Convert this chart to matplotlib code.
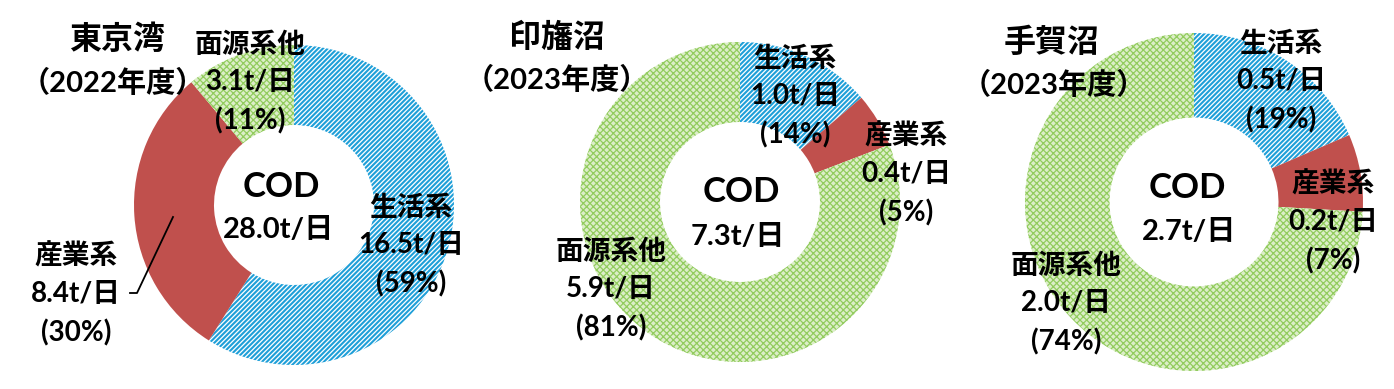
import matplotlib
matplotlib.use("Agg")
import matplotlib.pyplot as plt

# data
regions = ["東京湾", "印旛沼", "手賀沼"]
years = ["（2022年度）", "（2023年度）", "（2023年度）"]
categories = ["生活系", "産業系", "面源系他"]
loads = [[16.5, 8.4, 3.1], [1.0, 0.4, 5.9], [0.5, 0.2, 2.0]]
shares = [[59, 30, 11], [14, 5, 81], [19, 7, 74]]
totals = [28.0, 7.3, 2.7]

# layout in pixels (y measured from the top)
W, H = 1394, 389
centers = [(294, 205), (740, 202), (1194, 202)]
radii = [160, 160, 169]
title_pos = [[(117, 40), (113, 83)], [(557, 38), (557, 80)], [(1052, 43), (1054, 85)]]
center_pos = [[(281, 187), (278, 230)], [(741, 192), (738, 237)], [(1187, 188), (1189, 232)]]
label_pos = [
    [(411, 246), (76, 295), (250, 83)],
    [(795, 97), (906, 175), (611, 290)],
    [(1281, 82), (1333, 223), (1066, 304)],
]

face = ["white", "#C0504D", "#DCEEC8"]
edge = ["#1F9FD8", "#C0504D", "#92CC5E"]
hatch = ["///////", None, "xxxxx"]
hatch_lw = [1.5, 1.0, 0.9]

plt.rcParams["hatch.linewidth"] = 1.5
jp = ["Noto Sans CJK JP"]
mix = ["Lato", "Noto Sans CJK JP"]

fig = plt.figure(figsize=(W / 100, H / 100), dpi=100)
ax = fig.add_axes([0, 0, 1, 1])

for k in range(3):
    cx, cy = centers[k]
    r = radii[k]
    wedges, _ = ax.pie(loads[k], center=(cx, H - cy), radius=r, startangle=90,
                       counterclock=False,
                       wedgeprops=dict(width=r * 0.5, linewidth=0))
    for i, w in enumerate(wedges):
        w.set_facecolor(face[i])
        w.set_edgecolor(edge[i])
        if hatch[i]:
            w.set_hatch(hatch[i])
            if hasattr(w, "set_hatch_linewidth"):
                w.set_hatch_linewidth(hatch_lw[i])
            else:
                w._hatch_linewidth = hatch_lw[i]

    (tx1, ty1), (tx2, ty2) = title_pos[k]
    ax.text(tx1, H - ty1, regions[k], ha="center", va="center", fontsize=23,
            fontweight="bold", family=jp)
    ax.text(tx2, H - ty2, years[k], ha="center", va="center", fontsize=21,
            fontweight="bold", family=mix)

    (c1x, c1y), (c2x, c2y) = center_pos[k]
    ax.text(c1x, H - c1y, "COD", ha="center", va="center", fontsize=25,
            fontweight="bold", family=mix)
    ax.text(c2x, H - c2y, f"{totals[k]:.1f}t/日", ha="center", va="center",
            fontsize=21, fontweight="bold", family=mix)

    for i, cat in enumerate(categories):
        lx, ly = label_pos[k][i]
        ax.text(lx, H - ly, f"{cat}\n{loads[k][i]:.1f}t/日\n({shares[k][i]}%)",
                ha="center", va="center", fontsize=20, fontweight="bold",
                family=mix, linespacing=1.55)

# leader line for 産業系 in 東京湾
ax.plot([130, 137, 173], [H - 293, H - 293, H - 217], color="black", lw=1.3)

ax.set_xlim(0, W)
ax.set_ylim(0, H)
ax.set_aspect("equal")
ax.axis("off")

fig.savefig("out.png", dpi=100)
